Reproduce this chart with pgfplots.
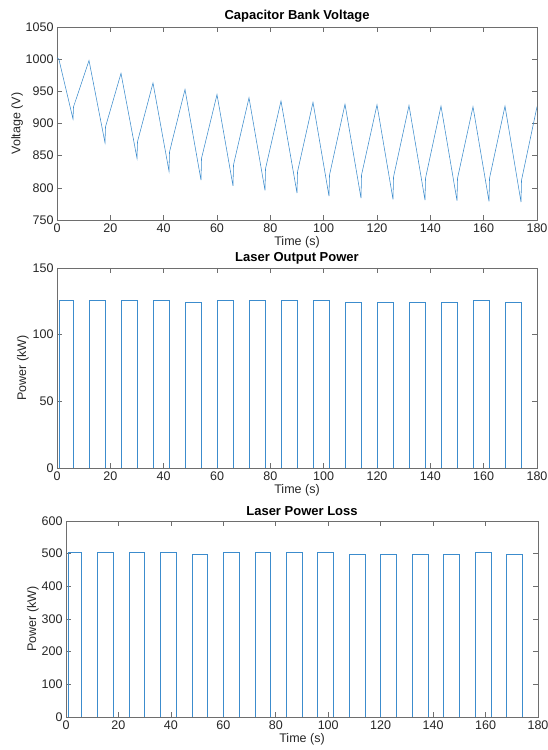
\documentclass[border=0pt]{standalone}
\usepackage{fontspec}
\setmainfont{Liberation Sans}
\usepackage{pgfplots}
\pgfplotsset{compat=1.18}
\definecolor{mlblue}{RGB}{60,140,205}
\definecolor{axgray}{RGB}{110,110,110}
\definecolor{txt}{RGB}{38,38,38}
\pgfplotsset{
  mlaxis/.style={
    scale only axis,
    xmin=0, xmax=180,
    xtick={0,20,...,180},
    tick align=inside,
    major tick length=5pt,
    axis line style={draw=axgray, line width=0.6pt},
    every tick/.style={draw=axgray, line width=0.6pt},
    /pgf/number format/assume math mode=true,
    /pgf/number format/1000 sep={},
    ticklabel style={font=\fontsize{12.5}{14}\selectfont, text=txt},
    label style={font=\fontsize{12.5}{14}\selectfont, text=txt},
    title style={font=\bfseries\fontsize{13}{15}\selectfont, at={(axis description cs:0.5,1)}, anchor=base},
    xlabel style={at={(axis description cs:0.5,0)}, anchor=base, yshift=-26pt},
    xlabel={Time (s)},
  },
  mlline/.style={color=mlblue, line width=0.55pt, mark=none},
}
\begin{document}
\begin{tikzpicture}
\useasboundingbox (0,0) rectangle (548pt,750pt);
% ---------------- Capacitor Bank Voltage
\begin{axis}[mlaxis,
  at={(57pt,530pt)}, anchor=south west,
  width=480pt, height=193pt,
  ymin=750, ymax=1050, ytick={750,800,...,1050},
  ylabel={Voltage (V)},
  ylabel style={at={(axis description cs:-0.083,0.5)}, anchor=center},
  title style={yshift=1.5pt},
  title={Capacitor Bank Voltage}]
\addplot[mlline] coordinates {
(0,1002) (0.7,1000)
(6,907) (6.2,926) (12,998)
(18,870) (18.2,895) (24,978)
(30,846) (30.2,872) (36,963)
(42,826) (42.2,856) (48,953)
(54,812) (54.2,846) (60,945)
(66,803) (66.2,836) (72,940)
(78,796) (78.2,830) (84,935)
(90,792) (90.2,825) (96,933)
(102,787) (102.2,820) (108,930)
(114,784) (114.2,820) (120,929)
(126,782) (126.2,817) (132,928)
(138,781) (138.2,815) (144,927)
(150,780) (150.2,815) (156,926)
(162,779) (162.2,815) (168,927)
(174,778) (174.2,812) (180,926)
};
\end{axis}
% ---------------- Laser Output Power
\begin{axis}[mlaxis,
  at={(57pt,282pt)}, anchor=south west,
  width=480pt, height=200pt,
  ymin=0, ymax=150, ytick={0,50,100,150},
  ylabel={Power (kW)},
  ylabel style={at={(axis description cs:-0.071,0.5)}, anchor=center},
  title={Laser Output Power}]
\addplot[mlline] coordinates {
(0,0) (0.7,0) (0.7,125.5) (6,125.5) (6,0)
(12,0) (12,125.5) (18,125.5) (18,0)
(24,0) (24,125.5) (30,125.5) (30,0)
(36,0) (36,125.5) (42,125.5) (42,0)
(48,0) (48,124.5) (54,124.5) (54,0)
(60,0) (60,125.5) (66,125.5) (66,0)
(72,0) (72,125.5) (78,125.5) (78,0)
(84,0) (84,125.5) (90,125.5) (90,0)
(96,0) (96,125.5) (102,125.5) (102,0)
(108,0) (108,124.5) (114,124.5) (114,0)
(120,0) (120,124.5) (126,124.5) (126,0)
(132,0) (132,124.5) (138,124.5) (138,0)
(144,0) (144,124.5) (150,124.5) (150,0)
(156,0) (156,125.5) (162,125.5) (162,0)
(168,0) (168,124.5) (174,124.5) (174,0)
(180,0)
};
\end{axis}
% ---------------- Laser Power Loss
\begin{axis}[mlaxis,
  at={(66pt,33pt)}, anchor=south west,
  width=472pt, height=196pt,
  ymin=0, ymax=600, ytick={0,100,...,600},
  ylabel={Power (kW)},
  ylabel style={at={(axis description cs:-0.070,0.5)}, anchor=center},
  title={Laser Power Loss}]
\addplot[mlline] coordinates {
(0,0) (0.7,0) (0.7,504) (6,504) (6,0)
(12,0) (12,504) (18,504) (18,0)
(24,0) (24,504) (30,504) (30,0)
(36,0) (36,504) (42,504) (42,0)
(48,0) (48,499) (54,499) (54,0)
(60,0) (60,504) (66,504) (66,0)
(72,0) (72,504) (78,504) (78,0)
(84,0) (84,504) (90,504) (90,0)
(96,0) (96,504) (102,504) (102,0)
(108,0) (108,499) (114,499) (114,0)
(120,0) (120,499) (126,499) (126,0)
(132,0) (132,499) (138,499) (138,0)
(144,0) (144,499) (150,499) (150,0)
(156,0) (156,504) (162,504) (162,0)
(168,0) (168,499) (174,499) (174,0)
(180,0)
};
\end{axis}
\end{tikzpicture}
\end{document}
